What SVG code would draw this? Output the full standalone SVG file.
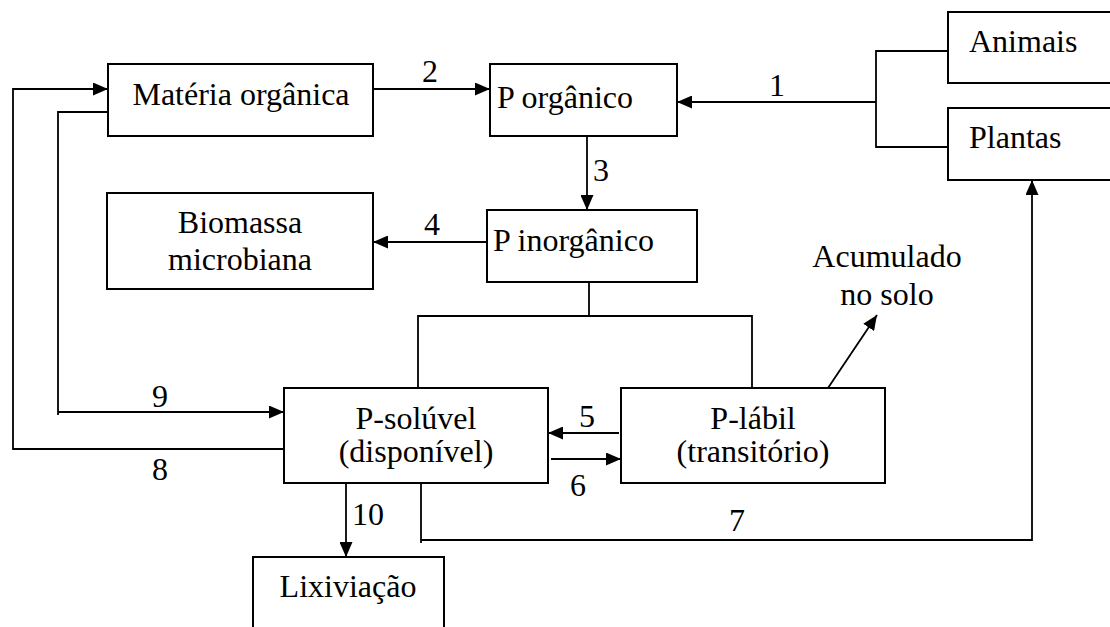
<svg xmlns="http://www.w3.org/2000/svg" width="1110" height="627" viewBox="0 0 1110 627">
<defs>
<marker id="ah" markerWidth="15" markerHeight="13" refX="15" refY="6.5" orient="auto" markerUnits="userSpaceOnUse">
<path d="M0,0 L15,6.5 L0,13 Z" fill="#000"/>
</marker>
</defs>
<style>
.box{fill:#fff;stroke:#000;stroke-width:2}
.ln{fill:none;stroke:#000;stroke-width:1.8}
.ar{fill:none;stroke:#000;stroke-width:1.8;marker-end:url(#ah)}
text{font-family:"Liberation Serif","Times New Roman",serif;font-size:32px;fill:#000}
.c{text-anchor:middle}
</style>
<rect width="1110" height="627" fill="#fff"/>
<g id="connectors">
<path class="ar" d="M373,89 L490,89"/>
<path class="ar" d="M876,102 L677,102"/>
<path class="ln" d="M948,51 L876,51 L876,147 L948,147"/>
<path class="ar" d="M587,136 L587,210"/>
<path class="ar" d="M487,242 L373,242"/>
<path class="ln" d="M589,282 L589,316"/>
<path class="ln" d="M418,388 L418,316 L752,316 L752,388"/>
<path class="ar" d="M828,388 L877,315"/>
<path class="ar" d="M619,433 L548,433"/>
<path class="ar" d="M551,459 L621,459"/>
<path class="ar" d="M284,449 L13,449 L13,89 L108,89"/>
<path class="ln" d="M108,112 L58,112 L58,415"/>
<path class="ar" d="M58,412 L284,412"/>
<path class="ar" d="M346,483 L346,557"/>
<path class="ln" d="M421,483 L421,543"/>
<path class="ar" d="M421,540 L1032,540 L1032,180"/>
<text class="c" x="777" y="96">1</text>
<text class="c" x="430" y="82">2</text>
<text class="c" x="601" y="181">3</text>
<text class="c" x="432" y="235">4</text>
<text class="c" x="587" y="427">5</text>
<text class="c" x="578" y="496">6</text>
<text class="c" x="737" y="531">7</text>
<text class="c" x="160" y="480">8</text>
<text class="c" x="160" y="407">9</text>
<text class="c" x="368" y="525">10</text>
</g>
<g id="materia-organica">
<rect class="box" x="108" y="64" width="265" height="72"/>
<text class="c" x="241" y="105">Matéria orgânica</text>
</g>
<g id="p-organico">
<rect class="box" x="490" y="64" width="187" height="72"/>
<text x="497" y="108">P orgânico</text>
</g>
<g id="animais">
<rect class="box" x="948" y="12" width="170" height="71"/>
<text x="969" y="52">Animais</text>
</g>
<g id="plantas">
<rect class="box" x="948" y="108" width="170" height="72"/>
<text x="969" y="148">Plantas</text>
</g>
<g id="biomassa">
<rect class="box" x="107" y="193" width="266" height="96"/>
<text class="c" x="240" y="233">Biomassa</text>
<text class="c" x="240" y="270">microbiana</text>
</g>
<g id="p-inorganico">
<rect class="box" x="487" y="210" width="210" height="72"/>
<text x="493" y="251">P inorgânico</text>
</g>
<g id="acumulado">
<text class="c" x="887" y="267">Acumulado</text>
<text class="c" x="887" y="305">no solo</text>
</g>
<g id="p-soluvel">
<rect class="box" x="284" y="388" width="264" height="95"/>
<text class="c" x="416" y="429">P-solúvel</text>
<text class="c" x="416" y="462">(disponível)</text>
</g>
<g id="p-labil">
<rect class="box" x="621" y="388" width="264" height="95"/>
<text class="c" x="753" y="429">P-lábil</text>
<text class="c" x="753" y="462">(transitório)</text>
</g>
<g id="lixiviacao">
<rect class="box" x="253" y="557" width="191" height="90"/>
<text class="c" x="348" y="597">Lixiviação</text>
</g>
</svg>
